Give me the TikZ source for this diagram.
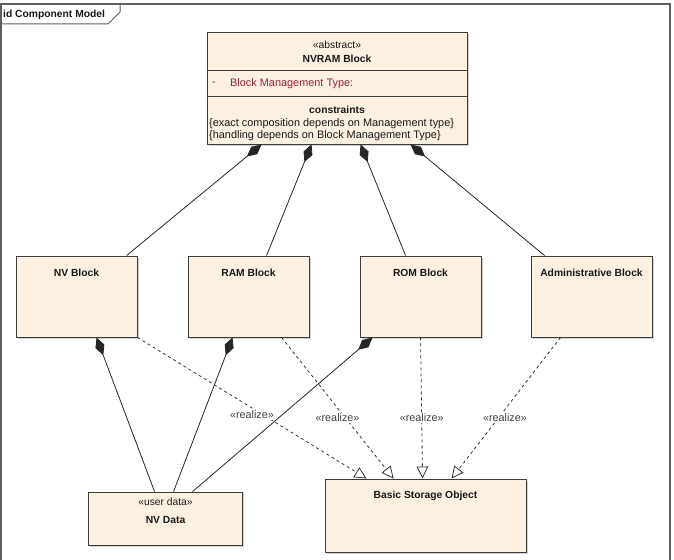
\documentclass[tikz,border=0pt]{standalone}
\usepackage{fontspec}
\setmainfont{Liberation Sans}
\usepackage{xcolor}
\usetikzlibrary{arrows.meta,shadows}
\definecolor{umlfill}{RGB}{251,240,225}
\definecolor{umlline}{RGB}{60,60,60}
\definecolor{attrred}{RGB}{160,35,50}
\definecolor{framegray}{RGB}{95,95,95}
\tikzset{
  txt/.style={inner sep=0pt, text=black!90, font=\fontsize{10.3}{12.5}\selectfont},
  bold/.style={txt, font=\fontsize{10.3}{12.5}\selectfont\bfseries},
  note/.style={txt, font=\fontsize{10.9}{12.5}\selectfont},
  umlbox/.style={draw=umlline, fill=umlfill, line width=0.9pt, inner sep=0pt,
    drop shadow={shadow xshift=2pt, shadow yshift=-2pt, fill=black!30, opacity=0.6}},
  block/.style={umlbox, minimum width=121pt, minimum height=81pt},
  compose/.style={{Diamond[length=19pt, width=9.5pt]}-, line width=0.8pt, draw=black!85},
  realize/.style={-{Triangle[length=12pt, width=11.5pt, fill=white]}, line width=0.8pt, draw=black!80, dash pattern=on 3pt off 3pt},
  stereo/.style={txt, font=\fontsize{10.8}{12.5}\selectfont, text=black!75, fill=white, inner sep=1pt}
}
\begin{document}
\begin{tikzpicture}[x=1pt, y=-1pt]
    \useasboundingbox (0,0) rectangle (674,559);
    \draw[framegray, line width=1.4pt] (1,565) -- (1,4) -- (670,4) -- (670,565);
    \draw[framegray, line width=1pt] (1,24) -- (108,24) -- (120,12) -- (120,4);
    \node[bold, anchor=west] (title) at (3,14.5) {id Component Model};

    \node[umlbox, minimum width=260pt, minimum height=112pt] (nvram) at (337,88) {};
    \draw[umlline, line width=0.9pt] ([yshift=-39pt]nvram.north west) -- ([yshift=-39pt]nvram.north east);
    \draw[umlline, line width=0.9pt] ([yshift=-65pt]nvram.north west) -- ([yshift=-65pt]nvram.north east);
    \node[txt] (nvramst) at (337,45) {«abstract»};
    \node[bold] (nvramname) at (337,59) {NVRAM Block};
    \node[note, text=attrred] (attrdash) at (214,83.5) {-};
    \node[note, text=attrred, anchor=west] (attr) at (230,83.5) {Block Management Type:};
    \node[bold] (constr) at (337,110) {constraints};
    \node[note, anchor=west] (constra) at (209,123.5) {\{exact composition depends on Management type\}};
    \node[note, anchor=west] (constrb) at (209,136) {\{handling depends on Block Management Type\}};

    \node[block] (nvb) at (76.5,296.5) {};
    \node[block] (ramb) at (248.5,296.5) {};
    \node[block] (romb) at (420.5,296.5) {};
    \node[block] (admb) at (591.5,296.5) {};
    \node[bold] at ([yshift=-17pt]nvb.north) {NV Block};
    \node[bold] at ([yshift=-17pt]ramb.north) {RAM Block};
    \node[bold] at ([yshift=-17pt]romb.north) {ROM Block};
    \node[bold] at ([yshift=-17pt]admb.north) {Administrative Block};

    \node[umlbox, minimum width=154pt, minimum height=53pt] (nvdata) at (165,518.5) {};
    \node[txt] (nvdatast) at (165.5,501.5) {«user data»};
    \node[bold] (nvdataname) at (165.5,520.5) {NV Data};
    \node[umlbox, minimum width=201pt, minimum height=73pt] (bso) at (425.5,515.5) {};
    \node[bold] (bsoname) at ([yshift=-17pt]bso.north) {Basic Storage Object};

    \draw[compose] ([xshift=55pt]nvram.south west) -- ([xshift=111pt]nvb.north west);
    \draw[compose] ([xshift=105pt]nvram.south west) -- ([xshift=79pt]ramb.north west);
    \draw[compose] ([xshift=154pt]nvram.south west) -- ([xshift=46pt]romb.north west);
    \draw[compose] ([xshift=204pt]nvram.south west) -- ([xshift=14pt]admb.north west);

    \draw[compose] ([xshift=81pt]nvb.south west) -- ([xshift=67pt]nvdata.north west);
    \draw[compose] ([xshift=45pt]ramb.south west) -- ([xshift=86pt]nvdata.north west);
    \draw[compose] ([xshift=13pt]romb.south west) -- ([xshift=105pt]nvdata.north west);

    \draw[realize] (nvb.south east) -- ([xshift=42pt]bso.north west) node[stereo, pos=0.5, yshift=-7pt] {«realize»};
    \draw[realize] ([xshift=94pt]ramb.south west) -- ([xshift=69pt]bso.north west) node[stereo, pos=0.5, yshift=-10pt] {«realize»};
    \draw[realize] ([xshift=61pt]romb.south west) -- ([xshift=98pt]bso.north west) node[stereo, pos=0.57] {«realize»};
    \draw[realize] ([xshift=30pt]admb.south west) -- ([xshift=127pt]bso.north west) node[stereo, pos=0.51, yshift=-8pt] {«realize»};
\end{tikzpicture}
\end{document}
